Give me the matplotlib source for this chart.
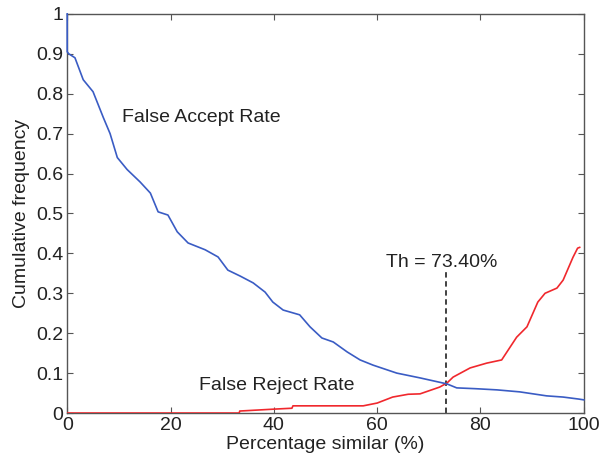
import matplotlib as mpl
mpl.use("Agg")
import matplotlib.pyplot as plt

mpl.rcParams.update({
    "font.family": ["Liberation Sans", "DejaVu Sans"],
    "font.size": 14,
})

# False Accept Rate (blue)
far_x = [0, 0, 0.3, 1.5, 3.1, 5.0, 7.0, 8.3, 9.7, 11.6, 14.1, 16.1, 17.6, 19.5,
         21.3, 23.4, 26.7, 29.2, 31.1, 33.5, 36, 38.3, 39.8, 41.8, 45, 47,
         49.3, 51.5, 54.2, 56.7, 59.2, 63.8, 68.3, 73.5, 75.4, 79, 83.2, 87.6,
         92.8, 96, 99, 100]
far_y = [1.0, 0.905, 0.90, 0.89, 0.835, 0.805, 0.74, 0.70, 0.64, 0.61, 0.579,
         0.551, 0.504, 0.496, 0.454, 0.426, 0.409, 0.391, 0.358, 0.343, 0.326,
         0.303, 0.278, 0.258, 0.246, 0.216, 0.188, 0.178, 0.153, 0.133, 0.12,
         0.10, 0.088, 0.073, 0.063, 0.061, 0.058, 0.053, 0.043, 0.04, 0.035,
         0.033]

# False Reject Rate (red)
frr_x = [0, 33.3, 33.4, 40.4, 43.5, 43.7, 57.3, 60, 63, 66, 68.3, 72.1, 73.5,
         74.7, 78, 81.2, 84.1, 87, 89, 91.1, 92.5, 94.8, 96, 97.9, 98.8, 99.2]
frr_y = [0, 0, 0.005, 0.01, 0.012, 0.018, 0.018, 0.025, 0.04, 0.047, 0.048,
         0.065, 0.075, 0.09, 0.113, 0.125, 0.133, 0.19, 0.216, 0.278, 0.30,
         0.313, 0.333, 0.39, 0.413, 0.415]

threshold = 73.4
th_top = 0.353

fig = plt.figure(figsize=(6, 4.62), dpi=100)
ax = fig.add_axes([0.112, 0.106, 0.861, 0.864])

ax.plot(far_x, far_y, color="#3a5cc4", lw=1.2, clip_on=False, zorder=4)
ax.plot(frr_x, frr_y, color="#f0282d", lw=1.2, zorder=3)
ax.plot([threshold, threshold], [0, th_top], color="#333333", lw=1.3,
        linestyle=(0, (3, 2)), zorder=2)

ax.text(26, 0.74, "False Accept Rate", ha="center", va="center", color="#222222")
ax.text(40.6, 0.07, "False Reject Rate", ha="center", va="center", color="#222222")
ax.text(72.5, 0.376, "Th = 73.40%", ha="center", va="center", color="#222222")

ax.set_xlim(0, 100)
ax.set_ylim(0, 1)
ax.set_xticks([0, 20, 40, 60, 80, 100])
ax.set_yticks([0, 0.1, 0.2, 0.3, 0.4, 0.5, 0.6, 0.7, 0.8, 0.9, 1])
ax.set_yticklabels(["0", "0.1", "0.2", "0.3", "0.4", "0.5", "0.6", "0.7",
                    "0.8", "0.9", "1"])
ax.tick_params(direction="in", top=True, right=True, length=4,
               color="#555555", labelcolor="#222222", labelsize=14, pad=3)
for sp in ax.spines.values():
    sp.set_color("#555555")
    sp.set_linewidth(1.0)

ax.set_xlabel("Percentage similar (%)", color="#222222", labelpad=1)
ax.set_ylabel("Cumulative frequency", color="#222222", labelpad=4)

fig.savefig("out.png", dpi=100)
